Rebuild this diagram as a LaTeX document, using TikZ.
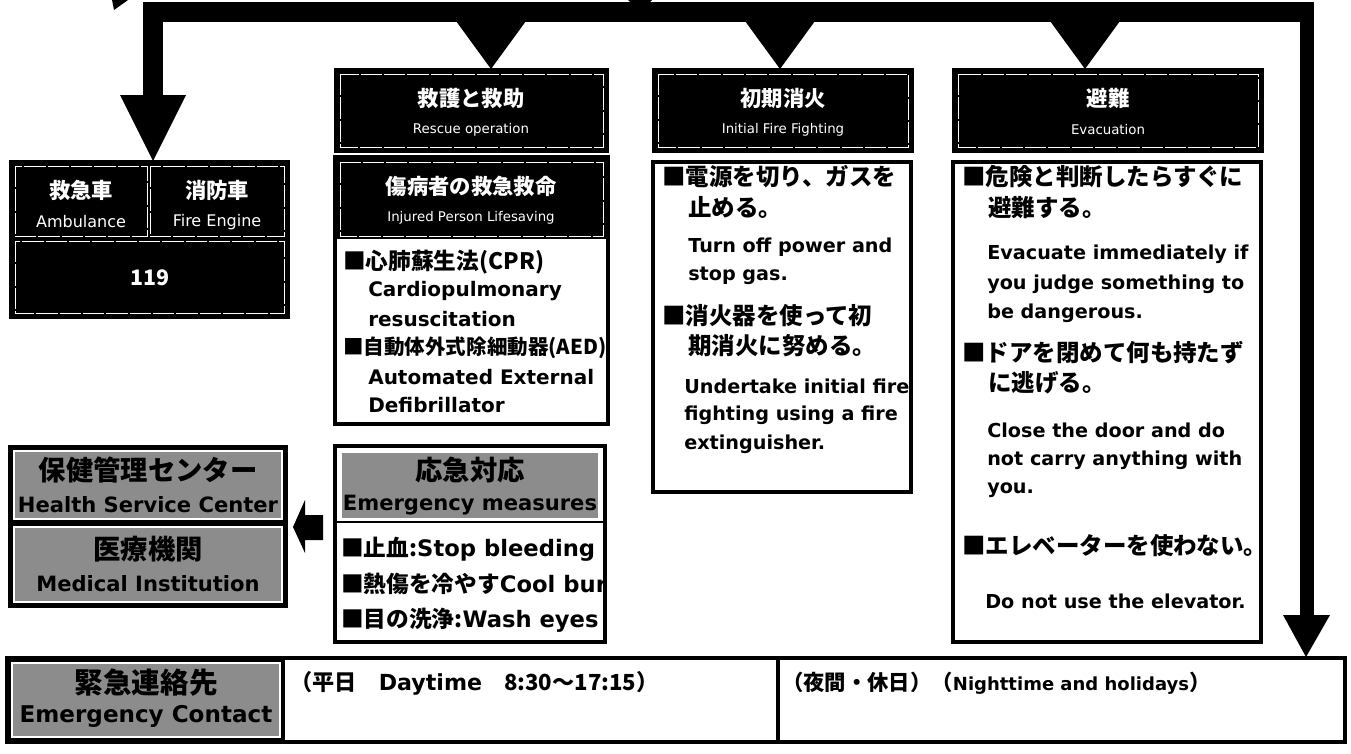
\documentclass[tikz,border=0pt]{standalone}
\usepackage{fontspec}
\setmainfont{DejaVu Sans}
\newfontfamily\jaf{Noto Sans CJK JP}
\newfontfamily\enf{DejaVu Sans}
\begin{document}
\begin{tikzpicture}[x=0.75pt,y=-0.75pt,
  frame/.style={draw=black,line width=2.6pt},
  blk/.style={fill=black,draw=black,line width=1.5pt},
  innerw/.style={draw=white,line width=0.6pt,dash pattern=on 16pt off 1.5pt},
  shade/.style={fill=black!45,draw=white,line width=0.8pt},
  jt/.style={font=\jaf\bfseries\fontsize{17.6}{21}\selectfont,anchor=west,inner sep=0pt},
  et/.style={font=\enf\bfseries\fontsize{14.4}{17}\selectfont,anchor=west,inner sep=0pt},
  etb/.style={font=\enf\bfseries\fontsize{15}{18}\selectfont,anchor=west,inner sep=0pt},
  emt/.style={font=\jaf\bfseries\fontsize{17}{20}\selectfont,anchor=west,inner sep=0pt},
  hj/.style={font=\jaf\bfseries\fontsize{16}{19}\selectfont,text=white,inner sep=0pt},
  he/.style={font=\enf\fontsize{10}{12}\selectfont,text=white,inner sep=0pt},
  sj/.style={font=\jaf\bfseries\fontsize{20.5}{24}\selectfont,text=black,inner sep=0pt},
  se/.style={font=\enf\bfseries\fontsize{15.8}{19}\selectfont,text=black,inner sep=0pt},
  arr/.style={fill=black}]
\useasboundingbox (0,0) rectangle (1351,753);

% ---------- connector bars and arrows ----------
\fill[arr] (112,0) -- (128,0) -- (114,10) -- cycle;
\fill[arr] (628,0) -- (652,0) -- (640,12) -- cycle;
\fill[arr] (143,2) rectangle (1314,22);
\fill[arr] (143,2) rectangle (163,96);
\fill[arr] (120,95) -- (186,95) -- (153,161) -- cycle;
\fill[arr] (1300,2) rectangle (1314,616);
\fill[arr] (1283,615) -- (1330,615) -- (1306,657) -- cycle;
\foreach \ax in {491,780,1085}{
  \fill[arr] (\ax-35,21) -- (\ax+35,21) -- (\ax,69) -- cycle;
}
% left arrow
\fill[arr] (293,527) -- (305,500) -- (305,515) -- (323,515) -- (323,540) -- (305,540) -- (305,553) -- cycle;

% ---------- column 1 : ambulance ----------
\draw[blk] (10,161) rectangle (289,318);
\draw[innerw] (15,166) rectangle (147,236);
\draw[innerw] (150,166) rectangle (284,236);
\draw[innerw] (15,241) rectangle (284,313);
\node[hj] (amj) at (81,190) {救急車};
\node[he,font=\enf\fontsize{12}{14}\selectfont] (ame) at (81,222) {Ambulance};
\node[hj] (fej) at (217,190) {消防車};
\node[he,font=\enf\fontsize{12}{14}\selectfont] (fee) at (217,222) {Fire Engine};
\node[hj] (n119) at (150,278) {119};

% ---------- column 2 : rescue ----------
\draw[blk] (335,69) rectangle (608,152);
\draw[innerw] (340,74) rectangle (603,147);
\node[hj] (c2hj) at (471,98) {救護と救助};
\node[he] (c2he) at (471,130) {Rescue operation};
\draw[blk] (335,157) rectangle (608,238);
\draw[innerw] (340,162) rectangle (603,236);
\node[hj] (c2sj) at (471,186) {傷病者の救急救命};
\node[he] (c2se) at (471,218) {Injured Person Lifesaving};
\draw[frame] (335,157) rectangle (608,424);
\node[emt] (c2a) at (343,262) {■心肺蘇生法(CPR)};
\node[etb] (c2b) at (368,291) {Cardiopulmonary};
\node[etb] (c2c) at (368,319) {resuscitation};
\node[emt,font=\jaf\bfseries\fontsize{15.4}{18}\selectfont] (c2d) at (343,348) {■自動体外式除細動器(AED)};
\node[etb] (c2e) at (368,377) {Automated External};
\node[etb] (c2f) at (368,405) {Defibrillator};

% ---------- column 3 : fire fighting ----------
\draw[blk] (653,69) rectangle (913,152);
\draw[innerw] (658,74) rectangle (908,147);
\node[hj] (c3hj) at (783,98) {初期消火};
\node[he] (c3he) at (783,130) {Initial Fire Fighting};
\draw[frame] (653,162) rectangle (911,492);
\node[jt] (c3a) at (662,177) {■電源を切り、ガスを};
\node[jt] (c3b) at (688,207) {止める。};
\node[et] (c3c) at (688,247) {Turn off power and};
\node[et] (c3d) at (688,276) {stop gas.};
\node[jt] (c3e) at (662,316) {■消火器を使って初};
\node[jt] (c3f) at (688,346) {期消火に努める。};
\node[et] (c3g) at (684,386) {Undertake initial fire};
\node[et] (c3h) at (684,415) {fighting using a fire};
\node[et] (c3i) at (684,444) {extinguisher.};

% ---------- column 4 : evacuation ----------
\draw[blk] (953,69) rectangle (1263,152);
\draw[innerw] (958,74) rectangle (1258,147);
\node[hj] (c4hj) at (1108,98) {避難};
\node[he] (c4he) at (1108,130) {Evacuation};
\draw[frame] (953,162) rectangle (1261,642);
\node[jt] (c4a) at (962,177) {■危険と判断したらすぐに};
\node[jt] (c4b) at (988,208) {避難する。};
\node[et] (c4c) at (987,254) {Evacuate immediately if};
\node[et] (c4d) at (987,284) {you judge something to};
\node[et] (c4e) at (987,313) {be dangerous.};
\node[jt] (c4f) at (962,353) {■ドアを閉めて何も持たず};
\node[jt] (c4g) at (988,383) {に逃げる。};
\node[et] (c4h) at (987,430) {Close the door and do};
\node[et] (c4i) at (987,460) {not carry anything with};
\node[et] (c4j) at (987,490) {you.};
\node[jt] (c4k) at (962,546) {■エレベーターを使わない。};
\node[et] (c4l) at (985,601) {Do not use the elevator.};

% ---------- emergency measures ----------
\draw[frame] (335,446) rectangle (605,642);
\draw[shade] (341,452) rectangle (599,519);
\draw[line width=1.2pt] (335,522) -- (605,522);
\node[sj] (emj) at (470,470) {応急対応};
\node[se] (eme) at (470,505) {Emergency measures};
\node[emt] (em1) at (341,549) {■止血:{\enf Stop bleeding}};
\node[emt] (em2) at (341,584) {■熱傷を冷やす{\enf Cool bur}};
\node[emt] (em3) at (341,620) {■目の洗浄:{\enf Wash eyes}};

% ---------- health service / medical ----------
\fill[black] (8,445) rectangle (288,608);
\draw[shade] (14,451) rectangle (282,519);
\draw[shade] (14,527) rectangle (282,602);
\node[sj] (hsj) at (148,470) {保健管理センター};
\node[se] (hse) at (148,505) {Health Service Center};
\node[sj] (mij) at (148,549) {医療機関};
\node[se] (mie) at (148,584) {Medical Institution};

% ---------- emergency contact ----------
\draw[frame] (7,658) rectangle (1345,742);
\fill[black] (7,658) rectangle (285,742);
\draw[shade] (12,663) rectangle (280,737);
\draw[line width=2.6pt] (778,658) -- (778,742);
\node[sj,font=\jaf\bfseries\fontsize{21.5}{25}\selectfont] (ecj) at (146,683) {緊急連絡先};
\node[se,font=\enf\bfseries\fontsize{17.3}{20}\selectfont] (ece) at (146,716) {Emergency Contact};
\node[jt,font=\jaf\bfseries\fontsize{16.6}{20}\selectfont] (day) at (290,683) {（平日　{\enf Daytime}　8:30～17:15）};
\node[jt,font=\jaf\bfseries\fontsize{16}{19}\selectfont] (night) at (782,683) {（夜間・休日）（{\enf\fontsize{13.5}{16}\selectfont Nighttime and holidays}）};
\end{tikzpicture}
\end{document}
